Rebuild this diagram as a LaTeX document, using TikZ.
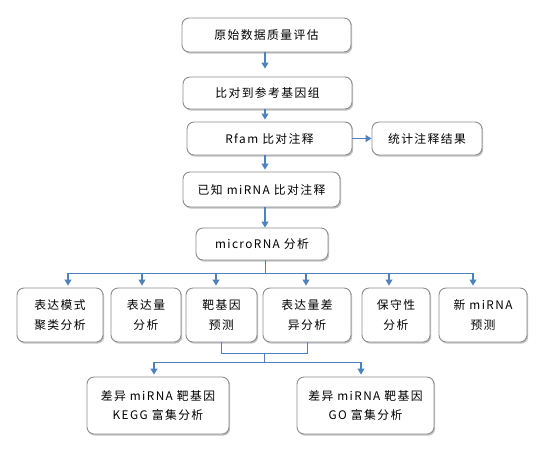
\documentclass[tikz,border=0pt]{standalone}
\usepackage{fontspec}
\usepackage{tikz}
\usetikzlibrary{positioning, arrows.meta, shadows}
\setmainfont{Noto Sans CJK SC}[LetterSpace=12]
\definecolor{boxborder}{HTML}{8C8C8C}
\definecolor{flowblue}{HTML}{4F81BD}

\begin{document}
\begin{tikzpicture}[
    x=1pt, y=-1pt,
    >={Triangle[width=7pt,length=6pt]},
    box/.style={draw=boxborder, rounded corners=7pt, fill=white, line width=0.9pt,
                align=center, inner sep=0pt, font=\fontsize{11.8}{19.5}\selectfont,
                drop shadow={shadow xshift=1.2pt, shadow yshift=-1.6pt, fill=black!40, opacity=0.6}},
    arr/.style={->, draw=flowblue, line width=1.1pt},
    link/.style={draw=flowblue, line width=1pt},
]
\useasboundingbox (0,0) rectangle (553,451);

% main chain
\node[box, minimum width=169pt, minimum height=34pt] (qc) at (266.5,35) {原始数据质量评估};
\node[box, minimum width=169pt, minimum height=32pt] (map) at (267.5,93) {比对到参考基因组};
\node[box, minimum width=165pt, minimum height=33pt] (rfam) at (269.5,138.5) {Rfam 比对注释};
\node[box, minimum width=110pt, minimum height=33pt] (stat) at (427,138.5) {统计注释结果};
\node[box, minimum width=157pt, minimum height=35pt] (known) at (261.5,189.5) {已知 miRNA 比对注释};
\node[box, minimum width=132pt, minimum height=32pt] (mir) at (262,244) {microRNA 分析};

\draw[arr, shorten >=8pt] (qc.south -| 265,0) -- (map.north -| 265,0);
\draw[arr, shorten >=2pt] (map.south -| 265,0) -- (rfam.north -| 265,0);
\draw[arr] (rfam) -- (stat);
\draw[arr, shorten >=2pt] (rfam.south -| 265,0) -- (known.north -| 265,0);
\draw[arr] (known.south -| 265,0) -- (mir.north -| 265,0);

% analysis row
\node[box, minimum width=86pt, minimum height=54pt] (clus) at (60,315) {表达模式\\聚类分析};
\node[box, minimum width=70pt, minimum height=54pt] (expr) at (146,315) {表达量\\分析};
\node[box, minimum width=71pt, minimum height=54pt] (tgt) at (221.5,315) {靶基因\\预测};
\node[box, minimum width=88pt, minimum height=54pt] (diff) at (307,315) {表达量差\\异分析};
\node[box, minimum width=68pt, minimum height=54pt] (cons) at (396,315) {保守性\\分析};
\node[box, minimum width=88pt, minimum height=54pt] (novel) at (483,315) {新 miRNA\\预测};

\coordinate (trunk) at (265,273);
\draw[link] (mir.south -| trunk) -- (trunk);
\draw[link] (68,273) -- (473,273);
\foreach \n/\x in {clus/68, expr/142, tgt/216, diff/306, cons/389, novel/473}{
  \coordinate (d\n) at (\x,273);
  \draw[arr, shorten >=2pt] (d\n) -- (d\n |- \n.north);
}

% enrichment
\node[box, minimum width=142pt, minimum height=57pt] (kegg) at (158,405.5) {差异 miRNA 靶基因\\KEGG 富集分析};
\node[box, minimum width=137pt, minimum height=57pt] (go) at (365.5,405.5) {差异 miRNA 靶基因\\GO 富集分析};

\coordinate (join) at (264,353);
\coordinate (split) at (264,362);
\coordinate (sl) at (154,362);
\coordinate (sr) at (361,362);
\draw[link] (tgt.south) |- (join) -| (diff.south);
\draw[link] (join) -- (split);
\draw[link] (sl) -- (sr);
\draw[arr, shorten >=2pt] (sl) -- (sl |- kegg.north);
\draw[arr, shorten >=2pt] (sr) -- (sr |- go.north);

\end{tikzpicture}
\end{document}
